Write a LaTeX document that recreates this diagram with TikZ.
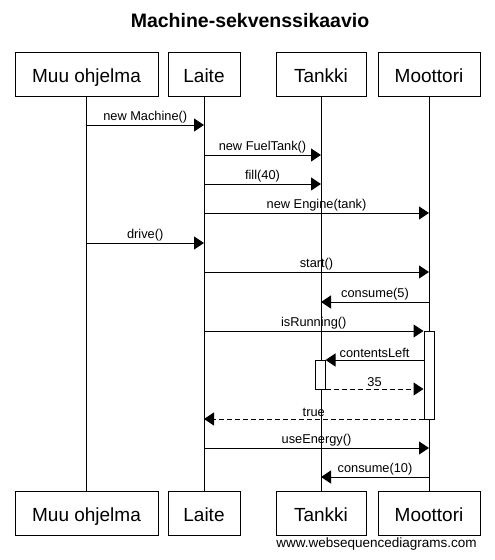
\documentclass[tikz,border=0pt]{standalone}
\usepackage{fontspec}
\setmainfont{Liberation Sans}
\usetikzlibrary{arrows.meta,positioning,calc}

\begin{document}
\begin{tikzpicture}
  [
    x=1pt, y=-1pt,
    actor/.style={rectangle,draw,line width=1pt,minimum height=44pt,inner sep=0pt,text height=18pt,text depth=2pt,font=\fontsize{19}{22}\selectfont},
    lifeline/.style={line width=1pt},
    activation/.style={rectangle,draw,fill=white,line width=1pt,minimum width=10pt,inner sep=0pt},
    msg/.style={line width=1pt,-{Triangle[length=10pt,width=13pt]}},
    reply/.style={msg,dash pattern=on 5pt off 3pt},
    lbl/.style={font=\fontsize{12.8}{15}\selectfont,inner sep=1.5pt,above}
  ]
  \useasboundingbox (0,0) rectangle (495,560);

  \node[font=\bfseries\fontsize{19.5}{22}\selectfont] (title) at (250,21) {Machine-sekvenssikaavio};

  % osallistujat
  \node[actor,minimum width=143pt] (muu) at (86.5,74) {Muu ohjelma};
  \node[actor,minimum width=72pt] (laite) at (204,74) {Laite};
  \node[actor,minimum width=90pt] (tankki) at (321,74) {Tankki};
  \node[actor,minimum width=102pt] (moottori) at (429,74) {Moottori};

  \node[actor,minimum width=143pt] (muu bottom) at (86.5,513) {Muu ohjelma};
  \node[actor,minimum width=72pt] (laite bottom) at (204,513) {Laite};
  \node[actor,minimum width=90pt] (tankki bottom) at (321,513) {Tankki};
  \node[actor,minimum width=102pt] (moottori bottom) at (429,513) {Moottori};

  \foreach \a in {muu,laite,tankki,moottori}
    \draw[lifeline] (\a) -- (\a\space bottom);

  % aktivaatiot
  \node[activation,minimum height=88pt] (running) at (429,375) {};
  \node[activation,minimum height=29pt] (contents) at (320,374.5) {};

  % viestien korkeudet
  \coordinate (t1) at (0,125);
  \coordinate (t2) at (0,155);
  \coordinate (t3) at (0,184);
  \coordinate (t4) at (0,213);
  \coordinate (t5) at (0,243);
  \coordinate (t6) at (0,272);
  \coordinate (t7) at (0,302);
  \coordinate (t8) at (0,331);
  \coordinate (t9) at (0,360);
  \coordinate (t10) at (0,389);
  \coordinate (t11) at (0,419);
  \coordinate (t12) at (0,448);
  \coordinate (t13) at (0,477);

  \draw[msg] (muu |- t1) -- (laite |- t1) node[lbl,midway] {new Machine()};
  \draw[msg] (laite |- t2) -- (tankki |- t2) node[lbl,midway] {new FuelTank()};
  \draw[msg] (laite |- t3) -- (tankki |- t3) node[lbl,midway] {fill(40)};
  \draw[msg] (laite |- t4) -- (moottori |- t4) node[lbl,midway] {new Engine(tank)};
  \draw[msg] (muu |- t5) -- (laite |- t5) node[lbl,midway] {drive()};
  \draw[msg] (laite |- t6) -- (moottori |- t6) node[lbl,midway] {start()};
  \draw[msg] (moottori |- t7) -- (tankki |- t7) node[lbl,midway] {consume(5)};
  \draw[msg] (laite |- t8) -- (running.west |- t8) node[lbl,midway] {isRunning()};
  \draw[msg] (running.west |- t9) -- (contents.east |- t9) node[lbl,midway] {contentsLeft};
  \draw[reply] (contents.east |- t10) -- (running.west |- t10) node[lbl,midway] {35};
  \draw[reply] (running.west |- t11) -- (laite |- t11) node[lbl,midway] {true};
  \draw[msg] (laite |- t12) -- (moottori |- t12) node[lbl,midway] {useEnergy()};
  \draw[msg] (moottori |- t13) -- (tankki |- t13) node[lbl,midway] {consume(10)};

  \node[font=\fontsize{13.5}{16}\selectfont] (credit) at (376.5,544) {www.websequencediagrams.com};
\end{tikzpicture}
\end{document}
